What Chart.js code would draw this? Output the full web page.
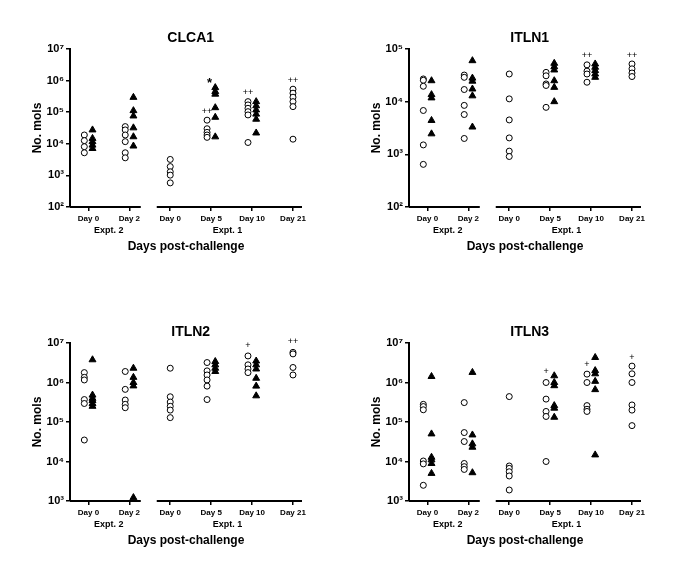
<!DOCTYPE html>
<html>
<head>
<meta charset="utf-8">
<script src="https://cdn.jsdelivr.net/npm/chart.js@4.4.1/dist/chart.umd.min.js"></script>
<style>
  body { margin: 0; background: #fff; }
  #wrap { position: relative; width: 685px; height: 581px; overflow: hidden; background: #fff; }
  canvas { position: absolute; }
</style>
</head>
<body>
<div id="wrap">
  <canvas id="clca1" width="340" height="287" style="left:0;top:0"></canvas>
  <canvas id="itln1" width="340" height="287" style="left:339px;top:0"></canvas>
  <canvas id="itln2" width="340" height="287" style="left:0;top:294px"></canvas>
  <canvas id="itln3" width="340" height="287" style="left:339px;top:294px"></canvas>
</div>
<script>
// categories along x (index 0-1 = Expt. 2, 2-5 = Expt. 1)
const dayLabels = ['Day 0', 'Day 2', 'Day 0', 'Day 5', 'Day 10', 'Day 21'];
const exptLabels = ['Expt. 2', 'Expt. 1'];

// open circles / filled triangles, one list per category
const clca1Open = [
  [19000, 12600, 8100, 5200],
  [35000, 27500, 19000, 11700, 5200, 3600],
  [3200, 1900, 1300, 1020, 580],
  [56000, 30000, 23000, 19000, 16000],
  [216000, 170000, 133000, 104000, 82000, 11000],
  [535000, 400000, 298000, 216000, 150000, 14000]
];
const clca1Filled = [
  [27500, 14800, 11700, 9100, 7100],
  [295000, 112000, 76000, 32000, 16700, 8500],
  [],
  [600000, 450000, 372000, 139000, 69000, 16600],
  [216000, 160000, 118000, 87000, 60000, 22000],
  []
];
const clca1Notes = [[3, -1, 1.05e5, '++'], [3, -0.4, 1.05e6, '*'], [4, -1, 4.2e5, '++'], [5, 0, 1e6, '++']];

const itln1Open = [
  [27000, 25500, 19600, 6800, 1510, 645],
  [32000, 29000, 17000, 8500, 5700, 2000],
  [33500, 11300, 4500, 2050, 1150, 910],
  [36000, 31000, 21700, 20300, 7800],
  [50000, 38000, 33500, 23400],
  [52000, 42000, 35000, 30000]
];
const itln1Filled = [
  [25000, 13600, 11800, 4400, 2450],
  [60000, 28000, 24500, 17400, 12900, 3300],
  [],
  [53500, 46000, 40000, 25000, 18700, 10000],
  [52000, 45000, 39000, 33500, 29000],
  []
];
const itln1Notes = [[4, -1, 7.5e4, '++'], [5, 0, 7.5e4, '++']];

const itln2Open = [
  [1.78e6, 1.35e6, 1.16e6, 3.7e5, 2.94e5, 3.5e4],
  [1.9e6, 6.7e5, 3.6e5, 2.8e5, 2.3e5],
  [2.3e6, 4.35e5, 3.2e5, 2.5e5, 2.0e5, 1.29e5],
  [3.2e6, 1.97e6, 1.55e6, 1.16e6, 8.1e5, 3.7e5],
  [4.7e6, 2.8e6, 2.2e6, 1.78e6],
  [5.8e6, 5.3e6, 2.4e6, 1.55e6]
];
const itln2Filled = [
  [3.76e6, 4.8e5, 3.97e5, 3.5e5, 2.94e5, 2.5e5],
  [2.3e6, 1.35e6, 1e6, 8.2e5, 1.22e3],
  [],
  [3.4e6, 2.8e6, 2.3e6, 1.9e6],
  [3.5e6, 2.8e6, 2.2e6, 1.28e6, 8.1e5, 4.6e5],
  []
];
const itln2Notes = [[4, -1, 8.5e6, '+'], [5, 0, 1.08e7, '++']];

const itln3Open = [
  [2.8e5, 2.46e5, 2.04e5, 1.03e4, 8.7e3, 2.5e3],
  [3.1e5, 5.4e4, 3.2e4, 8.9e3, 7.4e3, 6.3e3],
  [4.4e5, 7.7e3, 6.7e3, 5.5e3, 4.3e3, 1.9e3],
  [1.0e6, 3.8e5, 1.85e5, 1.38e5, 1.0e4],
  [1.63e6, 1.0e6, 2.6e5, 2.1e5, 1.85e5],
  [2.6e6, 1.66e6, 1.0e6, 2.7e5, 2.0e5, 8.1e4]
];
const itln3Filled = [
  [1.42e6, 5.0e4, 1.28e4, 1.1e4, 8.9e3, 5.0e3],
  [1.8e6, 4.7e4, 2.8e4, 2.3e4, 5.2e3],
  [],
  [1.48e6, 1.0e6, 8.3e5, 2.6e5, 2.24e5, 1.32e5],
  [4.3e6, 2.0e6, 1.66e6, 1.07e6, 6.6e5, 1.47e4],
  []
];
const itln3Notes = [[3, -1, 1.9e6, '+'], [4, -1, 2.9e6, '+'], [5, 0, 4.4e6, '+']];

const FONT = '"Liberation Sans", Arial, sans-serif';
const SUP = '⁰¹²³⁴⁵⁶⁷⁸⁹';
const SIDE = 0.1;

// pieces of the broken x axis, in category units
const axisPieces = [[-0.45, 1.28], [1.67, 5.22]];
const exptCenters = [0.5, 3.4];

const extras = {
  id: 'extras',
  afterDraw(chart, args, opts) {
    const { ctx, chartArea, scales: { x, y } } = chart;
    ctx.save();
    ctx.strokeStyle = '#000';
    ctx.lineWidth = 2;
    axisPieces.forEach(([a, b]) => {
      ctx.beginPath();
      ctx.moveTo(x.getPixelForValue(a), chartArea.bottom);
      ctx.lineTo(x.getPixelForValue(b), chartArea.bottom);
      ctx.stroke();
    });
    ctx.fillStyle = '#000';
    ctx.textAlign = 'center';
    ctx.textBaseline = 'middle';
    ctx.font = 'bold 14px ' + FONT;
    ctx.fillText(opts.title, x.getPixelForValue(2.5), chartArea.top - 11);
    ctx.font = 'bold 9px ' + FONT;
    exptLabels.forEach((t, i) => ctx.fillText(t, x.getPixelForValue(exptCenters[i]), chartArea.bottom + 24));
    opts.notes.forEach(([cat, side, val, txt]) => {
      ctx.font = txt === '*' ? 'bold 13px ' + FONT : '9px ' + FONT;
      ctx.fillText(txt, x.getPixelForValue(cat + side * SIDE), y.getPixelForValue(val) + (txt === '*' ? 3 : 0));
    });
    ctx.restore();
  }
};

const toPoints = (groups, sign, others) =>
  groups.flatMap((vals, i) => {
    const shift = others[i].length ? sign * SIDE : 0;
    return vals.map(v => ({ x: i + shift, y: v }));
  });

const makeChart = (id, title, open, filled, notes, yMin, yMax) => {
  const exps = [];
  for (let e = Math.log10(yMin); e <= Math.log10(yMax); e++) exps.push(e);
  return new Chart(document.getElementById(id), {
    type: 'scatter',
    data: {
      datasets: [{
        data: toPoints(open, -1, filled),
        pointStyle: 'circle',
        pointRadius: 3,
        borderWidth: 1,
        borderColor: '#000',
        backgroundColor: '#fff',
        clip: false
      }, {
        data: toPoints(filled, 1, open),
        pointStyle: 'triangle',
        pointRadius: 4,
        borderWidth: 1,
        borderColor: '#000',
        backgroundColor: '#000',
        clip: false
      }]
    },
    options: {
      responsive: false,
      animation: false,
      layout: { padding: { left: 30, right: 38, top: 49, bottom: 33 } },
      plugins: {
        legend: { display: false },
        tooltip: { enabled: false },
        extras: { title, notes }
      },
      scales: {
        x: {
          type: 'linear',
          min: -0.45,
          max: 5.22,
          afterFit: s => { s.height = 47; },
          afterBuildTicks: s => { s.ticks = dayLabels.map((d, i) => ({ value: i })); },
          border: { display: false },
          grid: { drawOnChartArea: false, color: '#000', lineWidth: 1.5, tickLength: 4 },
          ticks: {
            autoSkip: false,
            maxRotation: 0,
            padding: 3,
            color: '#000',
            font: { family: FONT, size: 8, weight: 'bold' },
            callback: v => dayLabels[Math.round(v)]
          },
          title: {
            display: true,
            text: 'Days post-challenge',
            color: '#000',
            padding: 0,
            font: { family: FONT, size: 12, weight: 'bold' }
          }
        },
        y: {
          type: 'logarithmic',
          min: yMin,
          max: yMax,
          afterFit: s => { s.width = 40; },
          afterBuildTicks: s => { s.ticks = exps.map(e => ({ value: Math.pow(10, e) })); },
          border: { display: true, color: '#000', width: 2 },
          grid: { drawOnChartArea: false, color: '#000', lineWidth: 1.5, tickLength: 4 },
          ticks: {
            padding: 2,
            color: '#000',
            font: { family: FONT, size: 11, weight: 'bold' },
            callback: v => '10' + SUP[Math.round(Math.log10(v))]
          },
          title: {
            display: true,
            text: 'No. mols',
            color: '#000',
            padding: 0,
            font: { family: FONT, size: 12, weight: 'bold' }
          }
        }
      }
    },
    plugins: [extras]
  });
};

makeChart('clca1', 'CLCA1', clca1Open, clca1Filled, clca1Notes, 1e2, 1e7);
makeChart('itln1', 'ITLN1', itln1Open, itln1Filled, itln1Notes, 1e2, 1e5);
makeChart('itln2', 'ITLN2', itln2Open, itln2Filled, itln2Notes, 1e3, 1e7);
makeChart('itln3', 'ITLN3', itln3Open, itln3Filled, itln3Notes, 1e3, 1e7);
</script>
</body>
</html>
